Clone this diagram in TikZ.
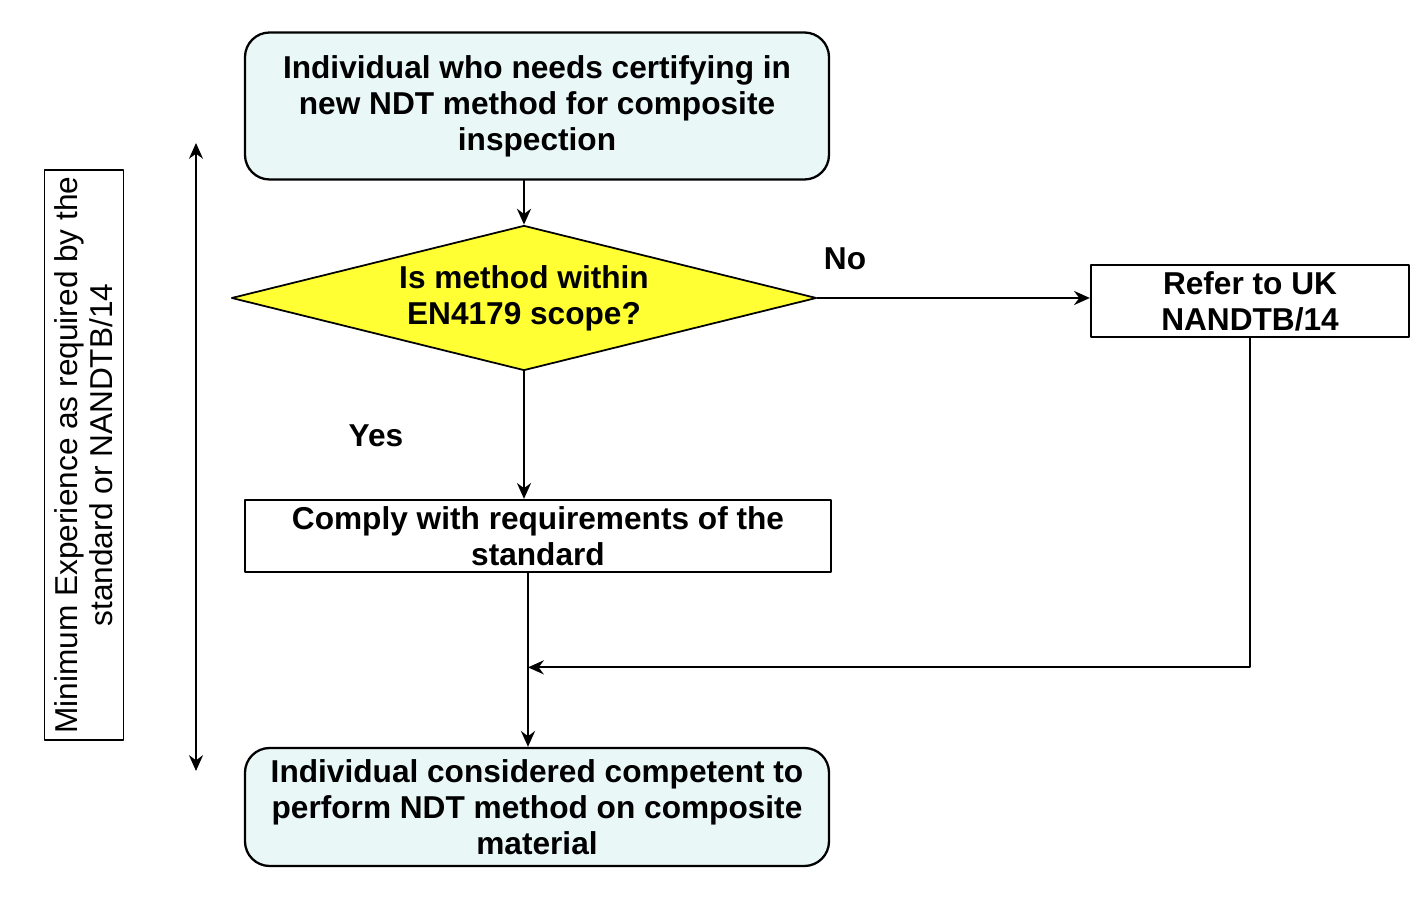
\documentclass[tikz,border=0pt]{standalone}
\usepackage{fontspec}
\setmainfont{Liberation Sans}
\usetikzlibrary{arrows.meta,calc,shapes.geometric}

\definecolor{startfill}{RGB}{234,247,247}
\definecolor{decfill}{RGB}{255,255,51}

\tikzset{
    roundbox/.style={draw, line width=1.3pt, rounded corners=14pt, fill=startfill,
        align=center, font=\bfseries\fontsize{18}{20.5}\selectfont, inner sep=0pt},
    plainbox/.style={draw, line width=1.3pt, fill=white,
        align=center, font=\bfseries\fontsize{18}{20.5}\selectfont, inner sep=0pt},
    decision/.style={diamond, draw, line width=1pt, fill=decfill, aspect=4, inner sep=0pt,
        align=center, font=\bfseries\fontsize{18}{20.5}\selectfont},
    flow/.style={line width=1.1pt, -{Stealth[length=9pt,width=8pt]}},
    branch/.style={font=\bfseries\fontsize{18}{20}\selectfont}
}

\begin{document}
\begin{tikzpicture}[line cap=round,line join=round]
    
    \useasboundingbox (0,0) rectangle (28.54,18.16);
    
    % boxes
    \node[roundbox, minimum width=11.68cm, minimum height=2.94cm] (start) at (10.74,16.04)
        {Individual who needs certifying in\\new NDT method for composite\\inspection};
    \node[decision, minimum width=11.7cm, minimum height=2.9cm] (scope) at (10.48,12.20)
        {Is method within\\EN4179 scope?};
    \node[plainbox, minimum width=6.36cm, minimum height=1.44cm] (refer) at (25.0,12.14)
        {Refer to UK\\NANDTB/14};
    \node[plainbox, minimum width=11.72cm, minimum height=1.44cm] (comply) at (10.76,7.44)
        {Comply with requirements of the\\standard};
    \node[roundbox, minimum width=11.68cm, minimum height=2.36cm] (done) at (10.74,2.02)
        {Individual considered competent to\\perform NDT method on composite\\material};
    
    % side note
    \node[draw, line width=1.1pt, rotate=90, minimum width=11.4cm, minimum height=1.58cm,
        align=center, inner sep=0pt, font=\fontsize{18}{20}\selectfont] (minexp) at (1.68,9.06)
        {Minimum Experience as required by the\\standard or NANDTB/14};
    \coordinate (spanTop) at (3.92,15.30);
    \coordinate (spanBot) at (3.92,2.74);
    \draw[line width=1.1pt, {Stealth[length=9pt,width=8pt]}-{Stealth[length=9pt,width=8pt]}] (spanTop) -- (spanBot);
    
    % connectors
    \coordinate (join) at ($(scope.south)+(0.08,-5.92)$);
    \draw[flow] (scope.north |- start.south) -- (scope.north);
    \draw[flow] (scope.east) -- (refer.west |- scope.east);
    \draw[flow] (scope.south) -- (scope.south |- comply.north);
    \draw[flow] (join |- comply.south) -- (join |- done.north);
    \draw[flow] (refer.south) |- (join);
    
    % labels
    \node[branch] (no) at (16.9,12.98) {No};
    \node[branch] (yes) at (7.52,9.44) {Yes};
    
\end{tikzpicture}
\end{document}
